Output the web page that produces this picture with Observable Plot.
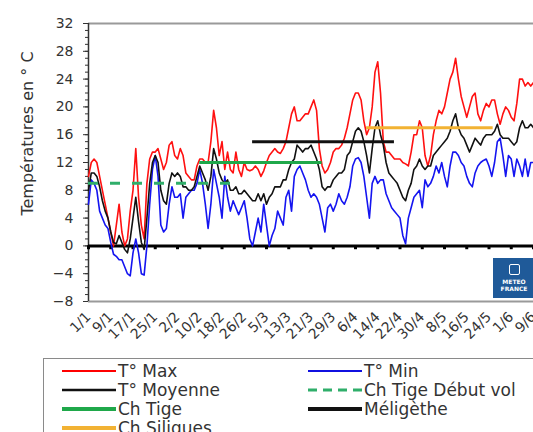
<!DOCTYPE html>
<html>
<head>
<meta charset="utf-8">
<script src="https://cdn.jsdelivr.net/npm/d3@7"></script>
<script src="https://cdn.jsdelivr.net/npm/@observablehq/plot@0.6"></script>
<style>
  html, body { margin: 0; padding: 0; overflow: hidden; background: white; }
  #wrap { position: relative; width: 533px; height: 432px; overflow: hidden; background: white; }
  #logo { position: absolute; left: 493px; top: 258px; width: 42px; height: 40px; background: #1f5a99;
          color: white; font-family: "DejaVu Sans", sans-serif; font-weight: bold; font-size: 6px;
          text-align: center; line-height: 7px; }
  #logo .ic { display: block; margin: 6px auto 3px auto; width: 9px; height: 9px; border: 1.5px solid white; border-radius: 2px; }
  #legend { position: absolute; left: 43px; top: 358px; width: 620px; height: 120px; border: 1px solid #8a8a8a;
            box-sizing: border-box; padding: 2.5px 0 0 18px; font-family: "DejaVu Sans", sans-serif; font-size: 17px; color: #333;
            display: grid; grid-template-columns: 246px 246px; grid-auto-rows: 19px; }
  #legend .item { display: flex; align-items: center; white-space: nowrap; line-height: 19px; }
  #legend svg { margin-right: 2px; flex: none; }
</style>
</head>
<body>
<div id="wrap">
  <div id="chart"></div>
  <div id="logo"><span class="ic"></span>METEO<br>FRANCE</div>
  <div id="legend"></div>
</div>
<script>
// x tick positions (day index from 1/1) and labels
const tickDays = [0, 8, 16, 24, 32, 40, 48, 56, 64, 72, 80, 88, 96, 104, 112, 120, 128, 136, 144, 152, 160];
const tickLabels = ["1/1","9/1","17/1","25/1","2/2","10/2","18/2","26/2","5/3","13/3","21/3","29/3","6/4","14/4","22/4","30/4","8/5","16/5","24/5","1/6","9/6"];
const yTicks = [-8, -4, 0, 4, 8, 12, 16, 20, 24, 28, 32];

// daily temperatures (°C), one value per day starting 1/1
const tmax = [10,12,12.5,12,10,8,6,4,2,0,3,6,2,0,1,5,8,14,7,3,1,9,12.5,13.5,13.5,14,12.5,11,12,14.5,15,13,12.5,14,13,10.5,10,9.5,9.5,11.5,12.5,12.5,12,12,15,19.5,17,13,15,11,13.5,11,10.5,13.5,11,10,
  12,11,10.8,11,11.5,11,10,10.8,12,13,13.5,14,13.5,13.3,14,15,17,19,20,18,18,18.5,19,19,20,21,19.5,14,11.5,10.5,11,12,13.5,14,14,14.5,15.5,17,19,21,22,22,21,18,16,17,20,25,26.5,22,15,13.5,13.5,13,12.5,12.5,12.5,12,11.8,11.5,13.5,16,16,18,17,13,11.5,13,16,18,19.5,19,20,22,24,25,27,24,21.5,20,18.5,20,21.5,22,19,18,19.5,20.5,20,21,21,19,17.5,19,20,19.5,18.5,18,20.5,24,24,23,23.5,23,23.5];
const tmin = [6,9.5,9,8,5,4,3,2.5,0.5,-1.2,-1.5,-2,-2,-3,-4,-4.3,-1,1,-1,-4,-4.2,0,6,11,13,10,3,2,2.5,6,8.5,7,7,7.5,4,7,7.5,8,8,9,11,9,6,2.5,6,11,9,7,4,10,7,5,6.5,5.5,4.5,5.5,6.5,4,1,0,2,4,2,6,3,0,
  1.5,2.5,5,4,3,7,8,5,10,11,11.5,10.5,9.5,8,7,7.5,7,6,4,2,5.5,6,5,6,7.5,6.5,6,7,8.5,11.5,12.5,12.7,12,10,7,4,9,10,9,9.5,9.5,7.5,6.5,5.5,5,4.5,4,1.5,0.3,4,5.5,7,7.5,8,5.5,9.5,8.5,9,10,11.5,10.5,12,10,8.5,11.5,13.5,13.5,13,12,11.5,10,9,8.5,10.5,11.5,12,12.3,12.5,11.5,10,12,15,15.5,13,10,13,12.5,10,12.5,11.5,10,12.5,10,12,12];
const tmoy = [8,10.5,10.5,10,8.5,6.5,5,4,2,0.5,0.3,1.5,0.5,-0.5,-1,1,4,7,3.5,0.5,-0.5,4,9,12,13,12,8,6.5,6,9,10.5,10,10.5,10,8.5,8.5,8,8,8.5,10,11.5,10.5,9.5,8,10,14,12.5,10.5,9.5,9,9.5,8,8,8.5,7.5,7.5,8,7.5,7,6.5,6.5,7.5,6.5,7.5,6,
  7,7.5,8.5,8.5,8.5,9.5,9.5,11,12,12.5,14.5,14,13.5,14,14,14.5,13.5,12.5,11,8.5,8,8.5,8.5,9.5,10,10.5,10.5,11,13,13.5,15,16.5,17,16.5,15,13,10.5,14,17,18,16,14.5,12,10.5,10,9.5,9,8,7,6.5,8,9,11,11.5,12.5,11.5,11,11.5,11.5,13,13.5,14,14.5,15,15.5,16.5,18,19,17,16,15.5,14.5,13.5,14.5,15.5,15,14.5,15.5,16,16,16,16.5,17.5,16,15.5,15.5,15.5,15,14.5,15,17,18,17,17,17.5,17];

// threshold periods (day index start/end, temperature)
const segNames  = ["Ch Tige Début vol", "Ch Tige", "Méligèthe", "Ch Siliques"];
const segStart  = [0, 40, 59, 100];
const segEnd    = [53, 84, 110, 145.5];
const segValue  = [9, 12, 15, 17];

// legend
const legendNames  = ["T° Max", "T° Min", "T° Moyenne", "Ch Tige Début vol", "Ch Tige", "Méligèthe", "Ch Siliques"];
const legendColors = ["#ff0000", "#1010e0", "#111111", "#2fae6a", "#1fa84a", "#111111", "#f2b233"];
const legendWidths = [2, 2, 2.5, 3, 4, 4, 4];
const legendDash   = [null, null, null, "9,6", null, null, null];

const segColor = { "Ch Tige Début vol": "#2fae6a", "Ch Tige": "#1fa84a", "Méligèthe": "#111111", "Ch Siliques": "#f2b233" };
const segDash  = { "Ch Tige Début vol": "10,12" };

const minorTicks = d3.range(-8, 33, 1);
const idx = (d, i) => i;

const segMarks = segNames.map((n, k) => Plot.ruleY([segValue[k]], {
  x1: segStart[k], x2: segEnd[k], stroke: segColor[n], strokeWidth: 3,
  strokeDasharray: segDash[n] || null
}));

const chart = Plot.plot({
  width: 533,
  height: 352,
  marginLeft: 88,
  marginRight: 0,
  marginTop: 23,
  marginBottom: 51,
  style: { fontFamily: "DejaVu Sans, sans-serif", fontSize: "14px", color: "#333", background: "white", overflow: "visible" },
  x: { domain: [0, 160] },
  y: { domain: [-8, 32] },
  marks: [
    Plot.ruleY([32, -8], { stroke: "#9a9a9a", strokeWidth: 2 }),
    Plot.axisY(minorTicks, { tickSize: 3, tickFormat: () => "", label: null }),
    Plot.axisY(yTicks, { tickSize: 5, tickPadding: 10, label: null, fontSize: 14 }),
    Plot.ruleX([0], { stroke: "#333", strokeWidth: 1.5 }),
    Plot.axisX(tickDays, {
      tickSize: 0, tickRotate: -45, tickPadding: 13, fontSize: 14, label: null,
      tickFormat: d => tickLabels[tickDays.indexOf(d)]
    }),
    Plot.text(["Températures en ° C"], { frameAnchor: "left", textAnchor: "middle", dx: -61, dy: -29, rotate: -90, fontSize: 16, fill: "#333" }),
    Plot.ruleY([0], { stroke: "black", strokeWidth: 3 }),
    Plot.ruleX(tickDays, { y1: 0, y2: -0.55, stroke: "black", strokeWidth: 3 }),
    Plot.lineY(tmax, { x: idx, stroke: "#ff1010", strokeWidth: 1.6 }),
    Plot.lineY(tmin, { x: idx, stroke: "#1414f0", strokeWidth: 1.6 }),
    Plot.lineY(tmoy, { x: idx, stroke: "#111", strokeWidth: 1.6 }),
    ...segMarks
  ]
});
document.getElementById("chart").appendChild(chart);

// legend
const leg = document.getElementById("legend");
legendNames.forEach((name, i) => {
  const item = document.createElement("div");
  item.className = "item";
  const dash = legendDash[i] ? ` stroke-dasharray="${legendDash[i]}"` : "";
  item.innerHTML = `<svg width="54" height="10"><line x1="0" y1="5" x2="54" y2="5" stroke="${legendColors[i]}" stroke-width="${legendWidths[i]}"${dash}/></svg><span>${name}</span>`;
  leg.appendChild(item);
});
</script>
</body>
</html>
